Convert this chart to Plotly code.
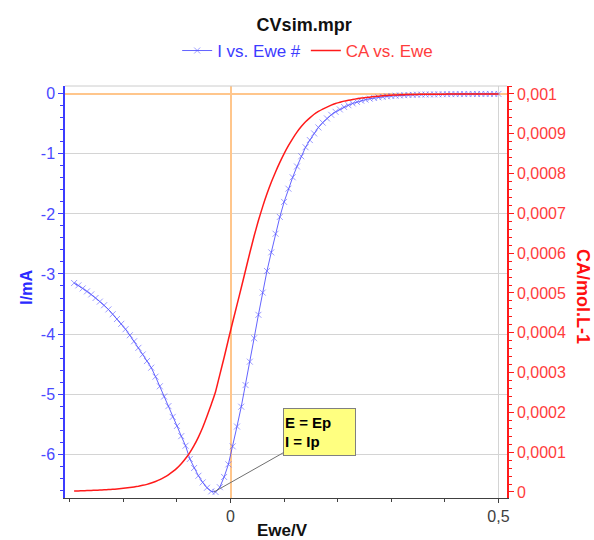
import plotly.graph_objects as go

# ---- data ----
ewe_v = [-0.292, -0.284, -0.276, -0.268, -0.260, -0.252, -0.244, -0.236, -0.228, -0.220,
         -0.212, -0.204, -0.196, -0.188, -0.180, -0.172, -0.164, -0.156, -0.148, -0.140,
         -0.132, -0.124, -0.116, -0.108, -0.100, -0.092, -0.084, -0.076, -0.068, -0.060,
         -0.052, -0.044, -0.036, -0.028, -0.020, -0.012, -0.004, 0.004, 0.012, 0.020,
         0.028, 0.036, 0.044, 0.052, 0.060, 0.068, 0.076, 0.084, 0.092, 0.100,
         0.108, 0.116, 0.124, 0.132, 0.140, 0.148, 0.156, 0.164, 0.172, 0.180,
         0.188, 0.196, 0.204, 0.212, 0.220, 0.228, 0.236, 0.244, 0.252, 0.260,
         0.268, 0.276, 0.284, 0.292, 0.300, 0.308, 0.316, 0.324, 0.332, 0.340,
         0.348, 0.356, 0.364, 0.372, 0.380, 0.388, 0.396, 0.404, 0.412, 0.420,
         0.428, 0.436, 0.444, 0.452, 0.460, 0.468, 0.476, 0.484, 0.492, 0.500]

i_ma = [-3.15, -3.19, -3.24, -3.29, -3.34, -3.40, -3.46, -3.52, -3.59, -3.67,
        -3.75, -3.83, -3.92, -4.02, -4.12, -4.23, -4.34, -4.45, -4.56, -4.71,
        -4.87, -5.04, -5.20, -5.38, -5.53, -5.70, -5.86, -6.08, -6.23, -6.36,
        -6.47, -6.56, -6.62, -6.63, -6.55, -6.38, -6.17, -5.87, -5.54, -5.21,
        -4.85, -4.46, -4.07, -3.68, -3.31, -2.95, -2.64, -2.33, -2.05, -1.80,
        -1.58, -1.39, -1.21, -1.04, -0.89, -0.77, -0.66, -0.56, -0.48, -0.41,
        -0.35, -0.30, -0.26, -0.22, -0.19, -0.16, -0.135, -0.115, -0.097, -0.082,
        -0.070, -0.059, -0.050, -0.043, -0.037, -0.031, -0.027, -0.023, -0.020, -0.017,
        -0.015, -0.013, -0.011, -0.010, -0.009, -0.008, -0.007, -0.006, -0.005, -0.005,
        -0.004, -0.004, -0.003, -0.003, -0.003, -0.002, -0.002, -0.002, -0.002, -0.002]

# CA in units of 1e-4 mol/L
ca_e4 = [0.025, 0.028, 0.031, 0.035, 0.039, 0.043, 0.048, 0.054, 0.060, 0.067,
         0.076, 0.086, 0.098, 0.112, 0.128, 0.146, 0.167, 0.192, 0.226, 0.265,
         0.310, 0.365, 0.430, 0.510, 0.600, 0.710, 0.840, 0.990, 1.170, 1.380,
         1.620, 1.900, 2.200, 2.520, 2.950, 3.380, 3.830, 4.270, 4.700, 5.130,
         5.570, 6.010, 6.430, 6.820, 7.170, 7.490, 7.780, 8.040, 8.280, 8.500,
         8.700, 8.880, 9.040, 9.180, 9.300, 9.400, 9.490, 9.560, 9.620, 9.670,
         9.720, 9.760, 9.790, 9.820, 9.840, 9.860, 9.880, 9.900, 9.910, 9.920,
         9.935, 9.945, 9.955, 9.962, 9.969, 9.974, 9.978, 9.982, 9.985, 9.987,
         9.989, 9.991, 9.992, 9.993, 9.994, 9.995, 9.995, 9.996, 9.996, 9.997,
         9.997, 9.997, 9.998, 9.998, 9.998, 9.998, 9.999, 9.999, 9.999, 9.999]
ca_mol = [v * 1e-4 for v in ca_e4]

left_tick_vals = [0, -1, -2, -3, -4, -5, -6]
left_tick_text = ["0", "-1", "-2", "-3", "-4", "-5", "-6"]
right_tick_vals = [0, 0.0001, 0.0002, 0.0003, 0.0004, 0.0005, 0.0006, 0.0007, 0.0008, 0.0009, 0.001]
right_tick_text = ["0", "0,0001", "0,0002", "0,0003", "0,0004", "0,0005", "0,0006",
                   "0,0007", "0,0008", "0,0009", "0,001"]
peak_e = -0.031
peak_i = -6.63

FONT = "Arial, Liberation Sans, sans-serif"
BLUE = "#3c3cff"
BLUE_TXT = "#4a4aff"
RED = "#ff1a1a"
RED_TXT = "#ff3c3c"

fig = go.Figure()
fig.add_trace(go.Scatter(
    x=ewe_v, y=i_ma, mode="lines+markers",
    name='<span style="color:#3c3cff">I vs. Ewe #</span>',
    line=dict(color="rgba(60,60,255,0.8)", width=1),
    marker=dict(symbol="x-thin", size=6,
                line=dict(width=1, color="rgba(90,90,255,0.6)"),
                color="rgba(90,90,255,0.6)"),
    yaxis="y"))
fig.add_trace(go.Scatter(
    x=ewe_v, y=ca_mol, mode="lines",
    name='<span style="color:#ff3c3c">CA vs. Ewe</span>',
    line=dict(color=RED, width=1.5, shape="spline", smoothing=0.6),
    yaxis="y2"))

fig.update_layout(
    width=594, height=540,
    margin=dict(l=65, r=87, t=86, b=42),
    paper_bgcolor="white", plot_bgcolor="white",
    font=dict(family=FONT, size=16),
    separators=", ",
    title=dict(text="CVsim.mpr", x=0.512, xref="container", xanchor="center",
               y=1 - 25 / 540, yref="container", yanchor="middle",
               font=dict(family=FONT, size=18, color="#111111", weight="bold")),
    showlegend=True,
    legend=dict(orientation="h", x=0.549, xanchor="center", y=1.085, yanchor="middle",
                font=dict(family=FONT, size=17), itemwidth=30,
                bgcolor="rgba(0,0,0,0)", tracegroupgap=0),
    xaxis=dict(
        range=[-0.309, 0.516], tickmode="linear", tick0=0, dtick=0.5,
        showline=True, linecolor="#404040", linewidth=1,
        ticks="outside", ticklen=4, tickcolor="#404040",
        tickfont=dict(family=FONT, size=16, color="#404040"),
        showgrid=True, gridcolor="#d4d4d4", gridwidth=1,
        zeroline=True, zerolinecolor="#ffc68c", zerolinewidth=2,
        minor=dict(tickmode="linear", tick0=0, dtick=0.1, ticks="outside",
                   ticklen=3, tickcolor="#404040", showgrid=False),
    ),
    yaxis=dict(
        range=[-6.73, 0.13], tickmode="array",
        tickvals=left_tick_vals, ticktext=left_tick_text,
        showline=True, linecolor=BLUE, linewidth=1.5,
        ticks="outside", ticklen=5, tickcolor=BLUE,
        tickfont=dict(family=FONT, size=16, color=BLUE_TXT),
        showgrid=True, gridcolor="#d4d4d4", gridwidth=1,
        zeroline=True, zerolinecolor="#ffc68c", zerolinewidth=2,
        minor=dict(tickmode="linear", tick0=0, dtick=0.2, ticks="outside",
                   ticklen=3, tickcolor=BLUE, showgrid=False),
    ),
    yaxis2=dict(
        range=[-0.0000151, 0.00102], overlaying="y", side="right",
        tickmode="array", tickvals=right_tick_vals, ticktext=right_tick_text,
        showline=True, linecolor=RED, linewidth=1.5,
        ticks="outside", ticklen=5, tickcolor=RED,
        tickfont=dict(family=FONT, size=16, color=RED_TXT),
        showgrid=False, zeroline=False,
        minor=dict(tickmode="linear", tick0=0, dtick=0.00002, ticks="outside",
                   ticklen=3, tickcolor=RED, showgrid=False),
    ),
)

# top frame line
fig.add_shape(type="line", xref="paper", yref="paper", x0=0, x1=1, y0=1, y1=1,
              line=dict(color="#cccccc", width=1))

# axis titles
fig.add_annotation(text="I/mA", xref="paper", yref="paper", x=-0.089, y=0.512,
                   xanchor="center", yanchor="middle", textangle=-90, showarrow=False,
                   font=dict(family=FONT, size=16, color="#2a2aff", weight="bold"))
fig.add_annotation(text="CA/mol.L-1", xref="paper", yref="paper", x=1.172, y=0.49,
                   xanchor="center", yanchor="middle", textangle=90, showarrow=False,
                   font=dict(family=FONT, size=18, color="#ff1010", weight="bold"))
fig.add_annotation(text="Ewe/V", xref="paper", yref="paper", x=0.493, y=-0.052,
                   xanchor="center", yanchor="top", showarrow=False,
                   font=dict(family=FONT, size=17, color="#111111", weight="bold"))

# peak annotation
fig.add_annotation(text="E = Ep<br>I = Ip", x=peak_e, y=peak_i, xref="x", yref="y",
                   ax=106, ay=-60, showarrow=True, arrowhead=0, arrowwidth=1,
                   arrowcolor="#707070", align="left", valign="middle",
                   width=69, height=44, borderpad=1, borderwidth=1,
                   bordercolor="#808080", bgcolor="#ffff80",
                   font=dict(family=FONT, size=15, color="#000000", weight="bold"))

fig.write_html("out.html", config={"displayModeBar": False},
               post_script="document.body.style.margin='0';document.body.style.overflow='hidden';")
